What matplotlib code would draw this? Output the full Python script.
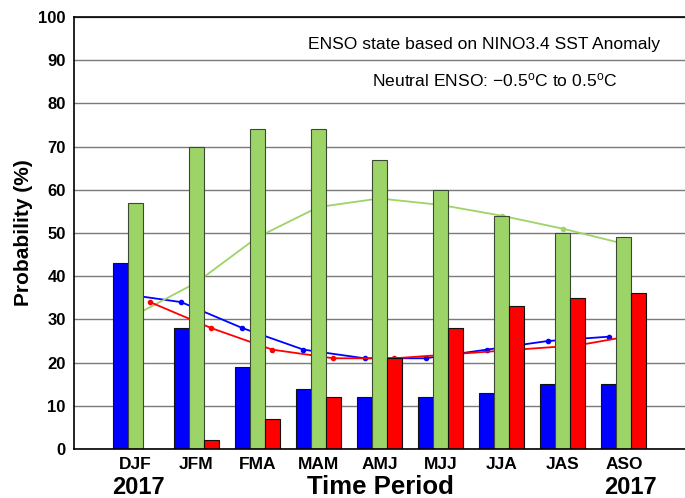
import matplotlib
matplotlib.use("Agg")
import matplotlib.pyplot as plt
import matplotlib.transforms as mtransforms
import numpy as np

plt.rcParams['font.family'] = ['Liberation Sans', 'DejaVu Sans']
plt.rcParams['mathtext.fontset'] = 'custom'
plt.rcParams['mathtext.rm'] = 'Liberation Sans'
plt.rcParams['mathtext.it'] = 'Liberation Sans:italic'
plt.rcParams['mathtext.bf'] = 'Liberation Sans:bold'

periods = ["DJF", "JFM", "FMA", "MAM", "AMJ", "MJJ", "JJA", "JAS", "ASO"]
la_nina = [43, 28, 19, 14, 12, 12, 13, 15, 15]
neutral = [57, 70, 74, 74, 67, 60, 54, 50, 49]
el_nino = [0, 2, 7, 12, 21, 28, 33, 35, 36]
clim_la_nina = [36, 34, 28, 23, 21, 21, 23, 25, 26]
clim_neutral = [31, 38.5, 49, 56, 58, 56.5, 54, 51, 47.5]
clim_el_nino = [34, 28, 23, 21, 21, 22, 23, 24, 26.5]

BLUE = '#0000ff'
GREEN = '#9dd468'
RED = '#ff0000'

fig = plt.figure(figsize=(6.85, 4.98), dpi=100)
ax = fig.add_axes([74/685, 1-449/498, 1-74/685, (449-17)/498])

x = np.arange(len(periods))
w = 0.245

ax.set_xlim(-1.0, 9.0)
ax.set_ylim(0, 100)
ax.set_yticks(np.arange(0, 101, 10))
ax.yaxis.grid(True, color='#7a7a7a', linewidth=1.0)
ax.set_axisbelow(True)

ax.plot(x - w, clim_la_nina, color=BLUE, lw=1.3, marker='o', ms=3, zorder=1.5)
ax.plot(x, clim_neutral, color=GREEN, lw=1.3, marker='o', ms=3, zorder=1.5)
ax.plot(x + w, clim_el_nino, color=RED, lw=1.3, marker='o', ms=3, zorder=1.5)

ax.bar(x - w, la_nina, width=w, color=BLUE, edgecolor='#111111', linewidth=0.8, zorder=2)
ax.bar(x, neutral, width=w, color=GREEN, edgecolor='#3d4a33', linewidth=0.8, zorder=2)
ax.bar(x + w, el_nino, width=w, color=RED, edgecolor='#111111', linewidth=0.8, zorder=2)

ax.spines['right'].set_visible(False)
for s in ['left', 'bottom', 'top']:
    ax.spines[s].set_color('black')
    ax.spines[s].set_linewidth(1.2)

ax.set_xticks(x)
ax.set_xticklabels(periods, fontsize=12.5, fontweight='bold')
ax.tick_params(axis='both', length=0, pad=6)
for lab in ax.get_yticklabels():
    lab.set_fontsize(12)
    lab.set_fontweight('bold')

ax.set_ylabel("Probability (%)", fontsize=15, fontweight='bold', labelpad=4)

trans = mtransforms.blended_transform_factory(ax.transData, fig.transFigure)
ax.text(0.05, 1 - 487/498, "2017", transform=trans, ha='center', va='center',
        fontsize=17, fontweight='bold')
ax.text(8.1, 1 - 487/498, "2017", transform=trans, ha='center', va='center',
        fontsize=17, fontweight='bold')
fig.text(380/685, 1 - 487/498, "Time Period", ha='center', va='center',
         fontsize=18.5, fontweight='bold')

fig.text(484/685, 1 - 45/498, "ENSO state based on NINO3.4 SST Anomaly",
         ha='center', va='center', fontsize=12.6)
fig.text(495/685, 1 - 80/498, "Neutral ENSO: \u22120.5$^\\mathrm{o}$C to 0.5$^\\mathrm{o}$C",
         ha='center', va='center', fontsize=12.6)

fig.savefig("out.png", dpi=100)
